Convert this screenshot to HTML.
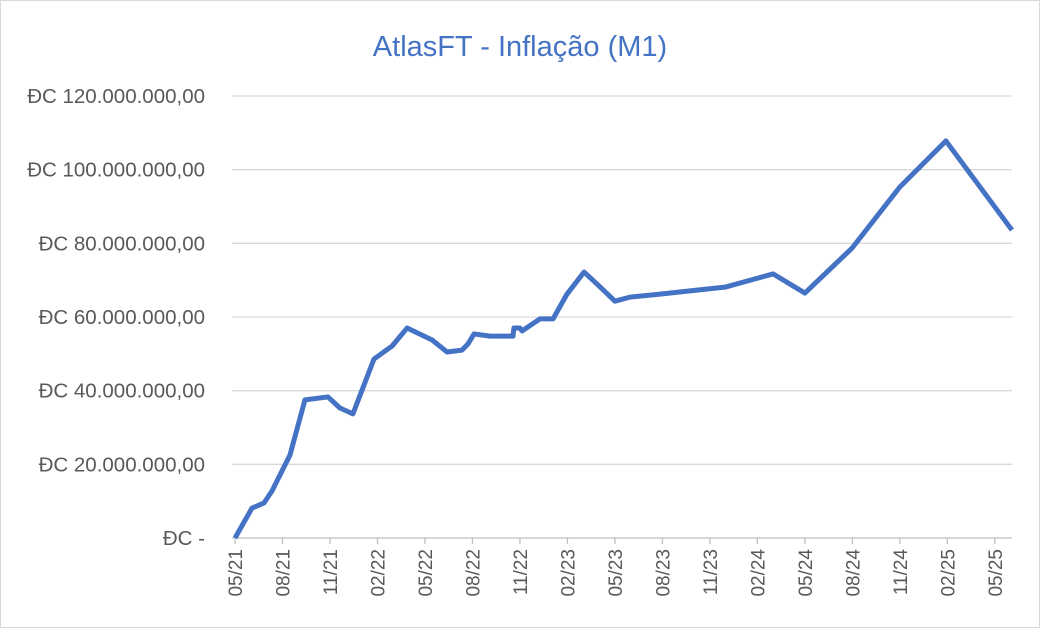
<!DOCTYPE html>
<html><head><meta charset="utf-8"><style>
body{margin:0;background:#fff;}
svg{display:block;font-family:"Liberation Sans",sans-serif;}
</style></head><body>
<svg id="c" width="1040" height="628">
<rect x="0.5" y="0.5" width="1039" height="627" fill="#fff" stroke="#d9d9d9"/>
<text x="520" y="56" text-anchor="middle" font-size="29" fill="#4472C4">AtlasFT - Inflação (M1)</text>
<g id="grid"></g><g id="ylab"></g><g id="xlab"></g><g id="series"></g>
</svg>
<script>
const months=[0,1.07,1.83,2.34,3.47,4.42,5.87,6.63,7.45,8.78,9.92,10.87,12.44,13.39,14.34,14.72,15.1,16.1,17.56,17.62,18,18.13,19.27,20.09,20.97,22.05,22.93,24,24.95,26.85,28.74,30.95,33.99,36,38.98,42,44.91,49.08];
const values=[0,8.1,9.5,12.8,22.5,37.5,38.3,35.3,33.7,48.6,52.1,57,53.8,50.5,51,52.7,55.4,54.8,54.8,57,57,56.2,59.5,59.5,66.2,72.2,68.7,64.3,65.4,66.2,67.1,68.1,71.7,66.5,78.7,95.3,107.8,83.6];
const yTicks=[0,20,40,60,80,100,120];
const yTickLabels=["ĐC -","ĐC 20.000.000,00","ĐC 40.000.000,00","ĐC 60.000.000,00","ĐC 80.000.000,00","ĐC 100.000.000,00","ĐC 120.000.000,00"];
const xTickMonths=[0,3,6,9,12,15,18,21,24,27,30,33,36,39,42,45,48];
const xTickLabels=["05/21","08/21","11/21","02/22","05/22","08/22","11/22","02/23","05/23","08/23","11/23","02/24","05/24","08/24","11/24","02/25","05/25"];
const NS="http://www.w3.org/2000/svg";
const x=m=>235+m*15.83;
const y=v=>538-v*442/120;
const g=id=>document.getElementById(id);
yTicks.forEach((t,i)=>{
 const l=document.createElementNS(NS,'line');
 
 
 l.setAttribute('x1',232);l.setAttribute('x2',1012);l.setAttribute('y1',y(t));l.setAttribute('y2',y(t));
 l.setAttribute('stroke',i==0?'#bfbfbf':'#d9d9d9');l.setAttribute('stroke-width',1.3);
 g('grid').appendChild(l);
 const tx=document.createElementNS(NS,'text');
 
 
 tx.setAttribute('x',205);tx.setAttribute('y',y(t)+7);tx.setAttribute('text-anchor','end');
 tx.setAttribute('font-size',20.5);tx.setAttribute('fill','#595959');tx.textContent=yTickLabels[i];
 g('ylab').appendChild(tx);
});
xTickMonths.forEach((m,i)=>{
 const l=document.createElementNS(NS,'line');
 
 
 l.setAttribute('x1',x(m));l.setAttribute('x2',x(m));l.setAttribute('y1',538);l.setAttribute('y2',544);
 l.setAttribute('stroke','#bfbfbf');l.setAttribute('stroke-width',1.3);
 g('xlab').appendChild(l);
 const tx=document.createElementNS(NS,'text');
 
 
 tx.setAttribute('transform',`translate(${x(m)+7},549) rotate(-90)`);
 tx.setAttribute('text-anchor','end');tx.setAttribute('font-size',19);tx.setAttribute('fill','#595959');
 tx.textContent=xTickLabels[i];
 g('xlab').appendChild(tx);
});
const p=document.createElementNS(NS,'polyline');


p.setAttribute('points',months.map((m,i)=>x(m)+','+y(values[i])).join(' '));
p.setAttribute('fill','none');p.setAttribute('stroke','#4472C4');p.setAttribute('stroke-width',5);p.setAttribute('stroke-linejoin','round');
g('series').appendChild(p);
</script>
</body></html>
